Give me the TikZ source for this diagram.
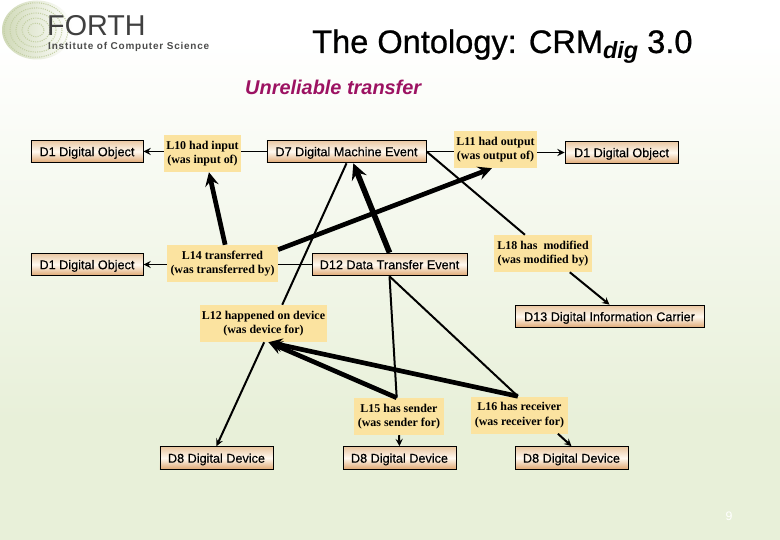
\documentclass[tikz,border=0pt]{standalone}
\usepackage{fontspec}
\setmainfont{Liberation Serif}
\setsansfont{Liberation Sans}
\newfontfamily\headfont[FakeBold=0.7]{Liberation Sans}
\newfontfamily\boxfont[FakeBold=0.35]{Liberation Sans}
\newfontfamily\logofont[LetterSpace=8]{Liberation Sans}
\usepackage{xcolor}
\definecolor{bgtop}{HTML}{FFFFFF}
\definecolor{bggreen}{HTML}{E8F0D9}
\definecolor{tanlight}{HTML}{E9C6A0}
\definecolor{tandark}{HTML}{DFA670}
\definecolor{cream}{HTML}{FFF9F0}
\definecolor{labelfill}{HTML}{FBE3A0}
\definecolor{plum}{HTML}{9C1262}
\definecolor{seal}{HTML}{A9BA7C}
\begin{document}
\begin{tikzpicture}[
  x=0.03cm, y=-0.03cm,
  cbox/.style={draw=black, line width=0.85pt, inner sep=0pt,
               text height=8pt, text depth=0pt,
               minimum height=0.68cm, top color=tanlight, bottom color=tandark, middle color=cream,
               font=\fontsize{10.8}{12}\selectfont\boxfont},
  rel/.style={fill=labelfill, inner sep=0pt, minimum height=1.11cm, align=center,
              font=\fontsize{10.2}{12.4}\selectfont\bfseries},
  arrow/.style={->, >=stealth, line width=1.7pt},
  link/.style={line width=1.7pt},
  heavy/.style={->, >=stealth, line width=4pt}
]

% --- background ---
\fill[bggreen] (0,0) rectangle (780,540);
\shade[top color=bgtop, bottom color=bggreen] (0,40) rectangle (780,420);
\fill[bgtop] (0,0) rectangle (780,40);

% --- logo and headings ---
\shade[left color=seal!55, right color=bgtop] (37,30) ellipse (35 and 29.5);
\foreach \r in {8,14,20,26,32}
  \draw[seal!70, densely dotted, line width=0.9pt] (36,30) circle [x radius=\r, y radius=0.85*\r];
\node[font=\fontsize{24.5}{26}\selectfont\sffamily, text=black!75, anchor=base west, inner sep=0pt] (forth) at (47,35.5) {FORTH};
\node[font=\fontsize{8.5}{9}\selectfont\logofont\bfseries, text=black!70, anchor=base west, inner sep=0pt, text height=5.5pt, text depth=0pt] (ics) at (48,50) {Institute of Computer Science};
\node[font=\fontsize{27.8}{30}\selectfont\headfont, anchor=base west, inner sep=0pt] (title) at (312,53)
  {The Ontology: CRM\raisebox{-0.3ex}{\fontsize{20}{22}\selectfont\sffamily\bfseries\itshape dig} 3.0};
\node[font=\fontsize{17}{20}\selectfont\sffamily\bfseries\itshape, text=plum, anchor=base west, inner sep=0pt] (sub) at (245,95) {Unreliable transfer};
\node[font=\fontsize{10.5}{12}\selectfont\sffamily, text=white] (page) at (729,516) {9};

% --- classes ---
\node[cbox, minimum width=3.36cm] (d1a) at (87,151.5) {D1 Digital Object};
\node[cbox, minimum width=3.36cm] (d1b) at (87,264.5) {D1 Digital Object};
\node[cbox, minimum width=4.77cm] (d7) at (346.5,151.5) {D7 Digital Machine Event};
\node[cbox, minimum width=4.65cm] (d12) at (389.5,264.5) {D12 Data Transfer Event};
\node[cbox, minimum width=3.39cm] (d1c) at (621.5,152.5) {D1 Digital Object};
\node[cbox, minimum width=5.67cm] (d13) at (609.5,316.5) {D13 Digital Information Carrier};
\node[cbox, minimum width=3.39cm] (d8a) at (216.5,458) {D8 Digital Device};
\node[cbox, minimum width=3.39cm] (d8b) at (399.5,458) {D8 Digital Device};
\node[cbox, minimum width=3.39cm] (d8c) at (571.5,458) {D8 Digital Device};

% --- properties ---
\node[rel, minimum width=2.31cm] (l10) at (202.5,153.5) {L10 had input\\(was input of)};
\node[rel, minimum width=3.33cm] (l14) at (222.5,263.5) {L14 transferred\\(was transferred by)};
\node[rel, minimum width=2.49cm] (l11) at (495.5,149.5) {L11 had output\\(was output of)};
\node[rel, minimum width=2.94cm] (l18) at (543,253.5) {L18 has\ \ modified\\(was modified by)};
\node[rel, minimum width=3.81cm] (l12) at (263.5,323.5) {L12 happened on device\\(was device for)};
\node[rel, minimum width=2.70cm] (l15) at (399,416.5) {L15 has sender\\(was sender for)};
\node[rel, minimum width=2.91cm] (l16) at (519.5,415) {L16 has receiver\\(was receiver for)};

% --- thin links ---
\draw[arrow] (l10.west |- d1a.east) -- (d1a.east);
\draw[link] (l10.east |- d7.west) -- (d7.west);
\draw[arrow] (l14.west |- d1b.east) -- (d1b.east);
\draw[link] (l14.east |- d12.west) -- (d12.west);
\draw[link] (d7.east) -- (d7.east -| l11.west);
\draw[arrow] (l11.east |- d1c.west) -- (d1c.west);
\draw[link] (d7.south) -- (l12.45);
\draw[arrow] (l12.-88) -- (d8a.north);
\draw[link] (d7.east) -- (l18.134);
\draw[arrow] (l18.-35) -- (d13.north);
\draw[link] (d12.south) -- (l15.97);
\draw[link] (d12.south) -- (l16.95);
\draw[arrow] (l15.south) -- (d8b.north);
\draw[arrow] (l16.-26) -- (d8c.north);

% --- heavy links ---
\draw[heavy] (l14.82) -- (l10.-71);
\draw[heavy] (l14.14) -- (l11.259);
\draw[heavy, line width=4.8pt] (d12.north) -- (d7.-60);
\draw[heavy] (l15.97) -- (l12.-75);
\draw[heavy] (l16.95) -- (l12.-75);

\end{tikzpicture}
\end{document}
